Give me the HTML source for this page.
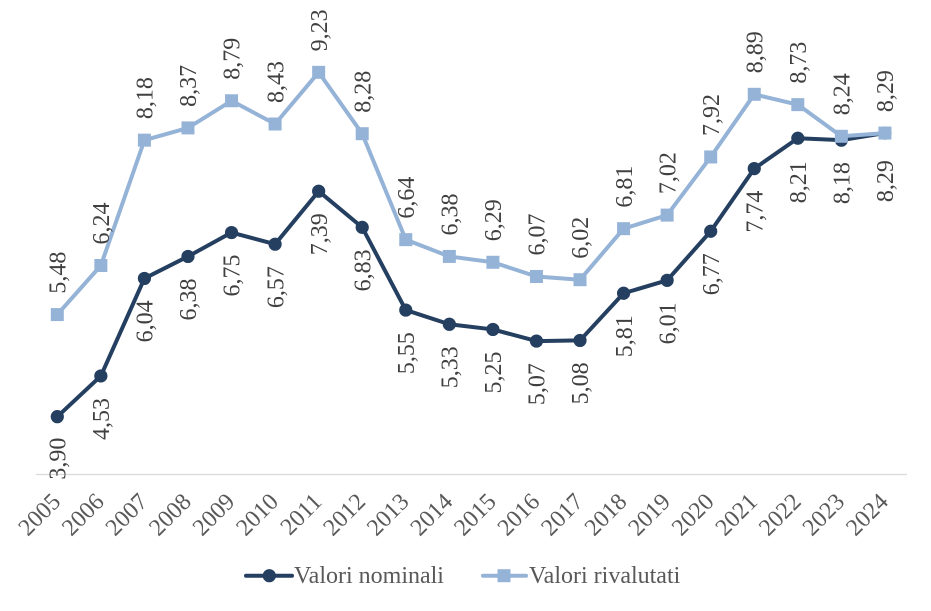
<!DOCTYPE html>
<html>
<head>
<meta charset="utf-8">
<style>
html,body{margin:0;padding:0;background:#fff;}
body{position:relative;width:931px;height:611px;overflow:hidden;}
svg{display:block;position:absolute;left:0;top:0;}
svg text{font-family:"Liberation Serif",Liberation Serif,"Noto Serif CJK SC","DejaVu Serif",serif;font-size:24px;}
.dl{fill:#404040;}
.ax{fill:#595959;}
.leg{position:absolute;top:562px;font-family:"Liberation Serif",Liberation Serif,"Noto Serif CJK SC","DejaVu Serif",serif;font-size:24px;line-height:28px;color:#595959;white-space:nowrap;}
</style>
</head>
<body>
<svg width="931" height="611" viewBox="0 0 931 611" xmlns="http://www.w3.org/2000/svg">
<rect width="931" height="611" fill="#fff"/>
<line x1="36" y1="474.5" x2="907" y2="474.5" stroke="#d9d9d9" stroke-width="1.3"/>

<polyline fill="none" stroke="#243f60" stroke-width="4" stroke-linejoin="round"
points="57.3,416.66 100.86,375.96 144.42,278.42 187.98,256.45 231.54,232.55 275.1,244.18 318.66,191.21 362.22,227.38 405.78,310.07 449.34,324.28 492.9,329.45 536.46,341.08 580.02,340.43 623.58,293.27 667.14,280.35 710.7,231.26 754.26,168.6 797.82,138.23 841.38,140.17 884.94,133.07"/>
<g fill="#243f60">
<circle cx="57.3" cy="416.66" r="6.6"/>
<circle cx="100.86" cy="375.96" r="6.6"/>
<circle cx="144.42" cy="278.42" r="6.6"/>
<circle cx="187.98" cy="256.45" r="6.6"/>
<circle cx="231.54" cy="232.55" r="6.6"/>
<circle cx="275.1" cy="244.18" r="6.6"/>
<circle cx="318.66" cy="191.21" r="6.6"/>
<circle cx="362.22" cy="227.38" r="6.6"/>
<circle cx="405.78" cy="310.07" r="6.6"/>
<circle cx="449.34" cy="324.28" r="6.6"/>
<circle cx="492.9" cy="329.45" r="6.6"/>
<circle cx="536.46" cy="341.08" r="6.6"/>
<circle cx="580.02" cy="340.43" r="6.6"/>
<circle cx="623.58" cy="293.27" r="6.6"/>
<circle cx="667.14" cy="280.35" r="6.6"/>
<circle cx="710.7" cy="231.26" r="6.6"/>
<circle cx="754.26" cy="168.6" r="6.6"/>
<circle cx="797.82" cy="138.23" r="6.6"/>
<circle cx="841.38" cy="140.17" r="6.6"/>
<circle cx="884.94" cy="133.07" r="6.6"/>
</g>

<polyline fill="none" stroke="#95b3d7" stroke-width="4" stroke-linejoin="round"
points="57.3,314.59 100.86,265.5 144.42,140.17 187.98,127.9 231.54,100.77 275.1,124.02 318.66,72.34 362.22,133.71 405.78,239.66 449.34,256.45 492.9,262.27 536.46,276.48 580.02,279.71 623.58,228.67 667.14,215.11 710.7,156.97 754.26,94.31 797.82,104.64 841.38,136.3 884.94,133.07"/>
<g fill="#95b3d7">
<rect x="50.8" y="308.09" width="13" height="13"/>
<rect x="94.36" y="259" width="13" height="13"/>
<rect x="137.92" y="133.67" width="13" height="13"/>
<rect x="181.48" y="121.4" width="13" height="13"/>
<rect x="225.04" y="94.27" width="13" height="13"/>
<rect x="268.6" y="117.52" width="13" height="13"/>
<rect x="312.16" y="65.84" width="13" height="13"/>
<rect x="355.72" y="127.21" width="13" height="13"/>
<rect x="399.28" y="233.16" width="13" height="13"/>
<rect x="442.84" y="249.95" width="13" height="13"/>
<rect x="486.4" y="255.77" width="13" height="13"/>
<rect x="529.96" y="269.98" width="13" height="13"/>
<rect x="573.52" y="273.21" width="13" height="13"/>
<rect x="617.08" y="222.17" width="13" height="13"/>
<rect x="660.64" y="208.61" width="13" height="13"/>
<rect x="704.2" y="150.47" width="13" height="13"/>
<rect x="747.76" y="87.81" width="13" height="13"/>
<rect x="791.32" y="98.14" width="13" height="13"/>
<rect x="834.88" y="129.8" width="13" height="13"/>
<rect x="878.44" y="126.57" width="13" height="13"/>
</g>

<g class="dl" text-anchor="end">
<text transform="translate(57.3,416.66) rotate(-90)" x="-21" dy="0.34em">3,90</text>
<text transform="translate(100.86,375.96) rotate(-90)" x="-22" dy="0.34em">4,53</text>
<text transform="translate(144.42,278.42) rotate(-90)" x="-22" dy="0.34em">6,04</text>
<text transform="translate(187.98,256.45) rotate(-90)" x="-22" dy="0.34em">6,38</text>
<text transform="translate(231.54,232.55) rotate(-90)" x="-22" dy="0.34em">6,75</text>
<text transform="translate(275.1,244.18) rotate(-90)" x="-22" dy="0.34em">6,57</text>
<text transform="translate(318.66,191.21) rotate(-90)" x="-22" dy="0.34em">7,39</text>
<text transform="translate(362.22,227.38) rotate(-90)" x="-22" dy="0.34em">6,83</text>
<text transform="translate(405.78,310.07) rotate(-90)" x="-22" dy="0.34em">5,55</text>
<text transform="translate(449.34,324.28) rotate(-90)" x="-22" dy="0.34em">5,33</text>
<text transform="translate(492.9,329.45) rotate(-90)" x="-22" dy="0.34em">5,25</text>
<text transform="translate(536.46,341.08) rotate(-90)" x="-22" dy="0.34em">5,07</text>
<text transform="translate(580.02,340.43) rotate(-90)" x="-22" dy="0.34em">5,08</text>
<text transform="translate(623.58,293.27) rotate(-90)" x="-22" dy="0.34em">5,81</text>
<text transform="translate(667.14,280.35) rotate(-90)" x="-22" dy="0.34em">6,01</text>
<text transform="translate(710.7,231.26) rotate(-90)" x="-22" dy="0.34em">6,77</text>
<text transform="translate(754.26,168.6) rotate(-90)" x="-22" dy="0.34em">7,74</text>
<text transform="translate(797.82,138.23) rotate(-90)" x="-23" dy="0.34em">8,21</text>
<text transform="translate(841.38,140.17) rotate(-90)" x="-22" dy="0.34em">8,18</text>
<text transform="translate(884.94,133.07) rotate(-90)" x="-27" dy="0.34em">8,29</text>
</g>

<g class="dl" text-anchor="start">
<text transform="translate(57.3,314.59) rotate(-90)" x="21" dy="0.34em">5,48</text>
<text transform="translate(100.86,265.5) rotate(-90)" x="21" dy="0.34em">6,24</text>
<text transform="translate(144.42,140.17) rotate(-90)" x="21" dy="0.34em">8,18</text>
<text transform="translate(187.98,127.9) rotate(-90)" x="21" dy="0.34em">8,37</text>
<text transform="translate(231.54,100.77) rotate(-90)" x="21" dy="0.34em">8,79</text>
<text transform="translate(275.1,124.02) rotate(-90)" x="21" dy="0.34em">8,43</text>
<text transform="translate(318.66,72.34) rotate(-90)" x="21" dy="0.34em">9,23</text>
<text transform="translate(362.22,133.71) rotate(-90)" x="21" dy="0.34em">8,28</text>
<text transform="translate(405.78,239.66) rotate(-90)" x="21" dy="0.34em">6,64</text>
<text transform="translate(449.34,256.45) rotate(-90)" x="21" dy="0.34em">6,38</text>
<text transform="translate(492.9,262.27) rotate(-90)" x="21" dy="0.34em">6,29</text>
<text transform="translate(536.46,276.48) rotate(-90)" x="21" dy="0.34em">6,07</text>
<text transform="translate(580.02,279.71) rotate(-90)" x="21" dy="0.34em">6,02</text>
<text transform="translate(623.58,228.67) rotate(-90)" x="21" dy="0.34em">6,81</text>
<text transform="translate(667.14,215.11) rotate(-90)" x="21" dy="0.34em">7,02</text>
<text transform="translate(710.7,156.97) rotate(-90)" x="21" dy="0.34em">7,92</text>
<text transform="translate(754.26,94.31) rotate(-90)" x="21" dy="0.34em">8,89</text>
<text transform="translate(797.82,104.64) rotate(-90)" x="21" dy="0.34em">8,73</text>
<text transform="translate(841.38,136.3) rotate(-90)" x="21" dy="0.34em">8,24</text>
<text transform="translate(884.94,133.07) rotate(-90)" x="21" dy="0.34em">8,29</text>
</g>

<g class="ax" text-anchor="end">
<text transform="translate(61.8,503) rotate(-45)">2005</text>
<text transform="translate(105.36,503) rotate(-45)">2006</text>
<text transform="translate(148.92,503) rotate(-45)">2007</text>
<text transform="translate(192.48,503) rotate(-45)">2008</text>
<text transform="translate(236.04,503) rotate(-45)">2009</text>
<text transform="translate(279.6,503) rotate(-45)">2010</text>
<text transform="translate(323.16,503) rotate(-45)">2011</text>
<text transform="translate(366.72,503) rotate(-45)">2012</text>
<text transform="translate(410.28,503) rotate(-45)">2013</text>
<text transform="translate(453.84,503) rotate(-45)">2014</text>
<text transform="translate(497.4,503) rotate(-45)">2015</text>
<text transform="translate(540.96,503) rotate(-45)">2016</text>
<text transform="translate(584.52,503) rotate(-45)">2017</text>
<text transform="translate(628.08,503) rotate(-45)">2018</text>
<text transform="translate(671.64,503) rotate(-45)">2019</text>
<text transform="translate(715.2,503) rotate(-45)">2020</text>
<text transform="translate(758.76,503) rotate(-45)">2021</text>
<text transform="translate(802.32,503) rotate(-45)">2022</text>
<text transform="translate(845.88,503) rotate(-45)">2023</text>
<text transform="translate(889.44,503) rotate(-45)">2024</text>
</g>

<line x1="246" y1="575.7" x2="292" y2="575.7" stroke="#243f60" stroke-width="4" stroke-linecap="round"/>
<circle cx="269.3" cy="575.7" r="6.6" fill="#243f60"/>
<line x1="483" y1="575.7" x2="526" y2="575.7" stroke="#95b3d7" stroke-width="4" stroke-linecap="round"/>
<rect x="497.5" y="569.2" width="13" height="13" fill="#95b3d7"/>
</svg>
<div class="leg" style="left:294px;">Valori nominali</div>
<div class="leg" style="left:529px;">Valori rivalutati</div>
</body>
</html>
